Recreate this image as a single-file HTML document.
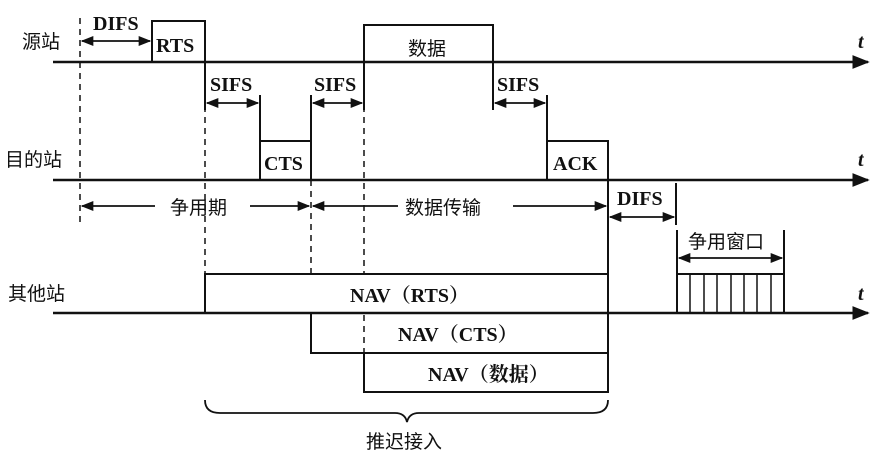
<!DOCTYPE html>
<html><head><meta charset="utf-8"><style>
html,body{margin:0;padding:0;background:#fff;}
svg{display:block;}
text{font-family:"Liberation Serif","Noto Serif CJK SC",serif;font-size:20px;fill:#111;font-weight:bold;}
.c{font-family:"Liberation Sans","Noto Sans CJK SC",sans-serif;font-size:19px;font-weight:normal;}
</style></head><body>
<svg width="878" height="472" viewBox="0 0 878 472" xmlns="http://www.w3.org/2000/svg">
<defs>
<marker id="a" viewBox="0 0 10 10" refX="9" refY="5" markerWidth="7" markerHeight="7" orient="auto-start-reverse"><path d="M0,1 L10,5 L0,9 z" fill="#111"/></marker>
</defs>
<g stroke="#111" fill="none" stroke-width="2">
<line x1="53" y1="62" x2="868" y2="62" marker-end="url(#a)" stroke-width="2.5"/>
<line x1="53" y1="180" x2="868" y2="180" marker-end="url(#a)" stroke-width="2.5"/>
<polyline points="152,62 152,21 205,21 205,62"/>
<polyline points="364,62 364,25 493,25 493,62"/>
<polyline points="260,180 260,141 311,141 311,180"/>
<polyline points="547,180 547,141 608,141 608,180"/>
<g stroke-dasharray="6,5" stroke-width="1.5">
<line x1="80" y1="18" x2="80" y2="225"/>
<line x1="205" y1="62" x2="205" y2="274"/>
<line x1="311" y1="180" x2="311" y2="313"/>
<line x1="364" y1="62" x2="364" y2="353"/>
</g>
<line x1="205" y1="62" x2="205" y2="110"/>
<line x1="260" y1="95" x2="260" y2="141"/>
<line x1="311" y1="95" x2="311" y2="141"/>
<line x1="364" y1="62" x2="364" y2="110"/>
<line x1="493" y1="62" x2="493" y2="110"/>
<line x1="547" y1="95" x2="547" y2="141"/>
<line x1="608" y1="180" x2="608" y2="274"/>
<line x1="676" y1="183" x2="676" y2="225"/>
<line x1="677" y1="230" x2="677" y2="274"/>
<line x1="784" y1="230" x2="784" y2="274"/>
<g stroke-width="1.8">
<line x1="82" y1="41" x2="150" y2="41" marker-start="url(#a)" marker-end="url(#a)"/>
<line x1="207" y1="103" x2="258" y2="103" marker-start="url(#a)" marker-end="url(#a)"/>
<line x1="313" y1="103" x2="362" y2="103" marker-start="url(#a)" marker-end="url(#a)"/>
<line x1="495" y1="103" x2="545" y2="103" marker-start="url(#a)" marker-end="url(#a)"/>
<line x1="610" y1="217" x2="674" y2="217" marker-start="url(#a)" marker-end="url(#a)"/>
<line x1="679" y1="258" x2="782" y2="258" marker-start="url(#a)" marker-end="url(#a)"/>
<line x1="82" y1="206" x2="155" y2="206" marker-start="url(#a)"/>
<line x1="250" y1="206" x2="309" y2="206" marker-end="url(#a)"/>
<line x1="313" y1="206" x2="398" y2="206" marker-start="url(#a)"/>
<line x1="513" y1="206" x2="606" y2="206" marker-end="url(#a)"/>
</g>
<rect x="205" y="274" width="403" height="39" fill="#fff"/>
<rect x="311" y="313" width="297" height="40"/>
<rect x="364" y="353" width="244" height="39"/>
<rect x="677" y="274" width="107" height="39"/>
<g stroke-width="1.5">
<line x1="690" y1="274" x2="690" y2="313"/><line x1="704" y1="274" x2="704" y2="313"/>
<line x1="717" y1="274" x2="717" y2="313"/><line x1="731" y1="274" x2="731" y2="313"/>
<line x1="744" y1="274" x2="744" y2="313"/><line x1="757" y1="274" x2="757" y2="313"/>
<line x1="771" y1="274" x2="771" y2="313"/>
</g>
<path d="M205,400 Q205,413 220,413 L395,413 Q405,413 407,422 Q409,413 419,413 L593,413 Q608,413 608,400" stroke-width="1.8"/>
</g>
<line x1="53" y1="313" x2="868" y2="313" stroke="#111" stroke-width="2.5" marker-end="url(#a)"/>
<g>
<text class="c" x="22" y="48">源站</text>
<text class="c" x="5" y="166">目的站</text>
<text class="c" x="8" y="300">其他站</text>
<text x="93" y="30">DIFS</text>
<text x="156" y="52">RTS</text>
<text x="210" y="91">SIFS</text>
<text x="314" y="91">SIFS</text>
<text x="497" y="91">SIFS</text>
<text x="264" y="170">CTS</text>
<text x="553" y="170">ACK</text>
<text class="c" x="408" y="55">数据</text>
<text x="617" y="205">DIFS</text>
<text class="c" x="688" y="248" font-size="17">争用窗口</text>
<text class="c" x="170" y="214">争用期</text>
<text class="c" x="405" y="214">数据传输</text>
<text x="350" y="302">NAV（RTS）</text>
<text x="398" y="341">NAV（CTS）</text>
<text x="428" y="381">NAV（数据）</text>
<text class="c" x="366" y="448">推迟接入</text>
<text x="858" y="48" font-style="italic">t</text>
<text x="858" y="166" font-style="italic">t</text>
<text x="858" y="300" font-style="italic">t</text>
</g>
</svg>
</body></html>
